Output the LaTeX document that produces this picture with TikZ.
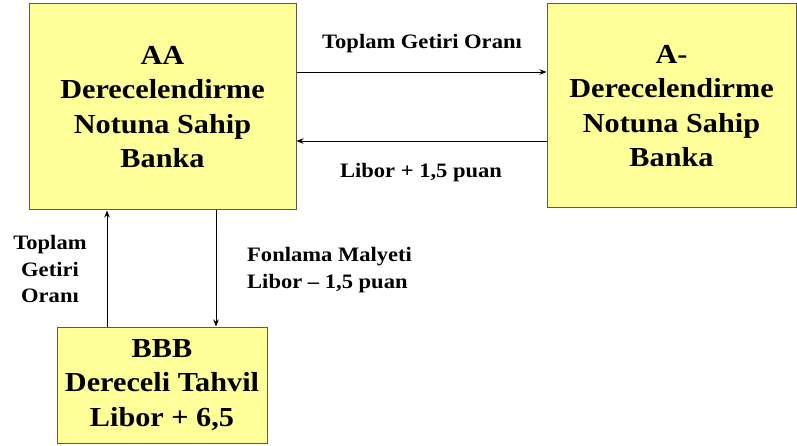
\documentclass[tikz,border=0pt]{standalone}
\usepackage{fontspec}
\setmainfont{Liberation Serif}[FakeStretch=1.1]
\usetikzlibrary{arrows.meta}
\definecolor{boxfill}{RGB}{255,255,153}
\definecolor{boxline}{RGB}{90,90,90}
\tikzset{
  bank/.style={draw=boxline, line width=1pt, fill=boxfill, align=center,
    font=\fontsize{27.5}{34.5}\selectfont\bfseries, inner sep=0pt},
  flow/.style={line width=0.8pt, -{Stealth[length=7pt,width=5.5pt]}},
  lbl/.style={font=\fontsize{20.5}{26.5}\selectfont\bfseries, inner sep=0pt}
}
\begin{document}
\begin{tikzpicture}[x=1pt,y=-1pt]
\useasboundingbox (0,0) rectangle (797,446);
\node[bank, minimum width=267pt, minimum height=206pt] (aa) at (162.5,107)
  {AA\\Derecelendirme\\Notuna Sahip\\Banka};
\node[bank, minimum width=249pt, minimum height=204pt] (am) at (671.5,106)
  {A-\\Derecelendirme\\Notuna Sahip\\Banka};
\node[bank, minimum width=210pt, minimum height=116pt] (bbb) at (162,385)
  {BBB\\Dereceli Tahvil\\Libor + 6,5};
% flows between the two banks
\draw[flow] (aa.east |- 0,72) -- (am.west |- 0,72);
\draw[flow] (am.west |- 0,141) -- (aa.east |- 0,141);
% flows between the AA bank and the bond
\draw[flow] (bbb.north -| 107,0) -- (aa.south -| 107,0);
\draw[flow] (aa.south -| 216,0) -- (bbb.north -| 216,0);
% labels
\node[lbl] (t1) at (422,44) {Toplam Getiri Oranı};
\node[lbl] (t2) at (421,173) {Libor + 1,5 puan};
\node[lbl, align=center] (t3) at (50,269) {Toplam\\Getiri\\Oranı};
\node[lbl, align=left, anchor=west] (t4) at (247,270) {Fonlama Malyeti\\Libor – 1,5 puan};
\end{tikzpicture}
\end{document}
